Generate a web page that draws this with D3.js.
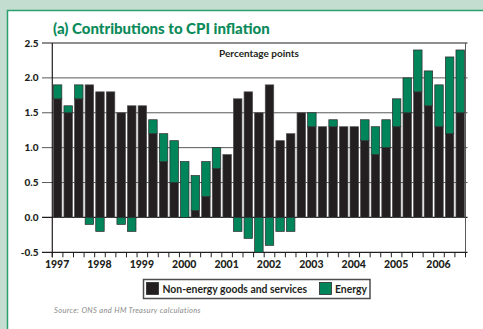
<!DOCTYPE html>
<html>
<head>
<meta charset="utf-8">
<script src="https://cdn.jsdelivr.net/npm/d3@7"></script>
<style>
  html, body { margin: 0; padding: 0; background: #c3ded1; }
  svg { display: block; }
</style>
</head>
<body>
<svg id="chart" width="483" height="329"></svg>
<script>
// Quarterly contributions to CPI inflation, 1997 Q1 – 2006 Q3 (percentage points)
const quarters = [];
for (let yr = 1997; yr <= 2006; yr++) {
  for (let q = 1; q <= 4; q++) {
    if (yr === 2006 && q === 4) break;
    quarters.push(yr + " Q" + q);
  }
}
const nonEnergy = [1.7, 1.5, 1.7, 1.9, 1.8, 1.8, 1.5, 1.6, 1.6, 1.2,
                   0.8, 0.5, 0.0, 0.1, 0.3, 0.7, 0.9, 1.7, 1.8, 1.5,
                   1.9, 1.1, 1.2, 1.5, 1.3, 1.3, 1.3, 1.3, 1.3, 1.1,
                   0.9, 1.0, 1.3, 1.5, 1.8, 1.6, 1.3, 1.2, 1.5];
const energy    = [0.2, 0.1, 0.2, -0.1, -0.2, 0.0, -0.1, -0.2, 0.0, 0.2,
                   0.4, 0.6, 0.8, 0.5, 0.5, 0.3, 0.0, -0.2, -0.3, -0.5,
                   -0.4, -0.2, -0.2, 0.0, 0.2, 0.0, 0.1, 0.0, 0.0, 0.3,
                   0.4, 0.4, 0.4, 0.5, 0.6, 0.5, 0.6, 1.1, 0.9];
const yTicks = [-0.5, 0.0, 0.5, 1.0, 1.5, 2.0, 2.5];
const yearLabels = ["1997", "1998", "1999", "2000", "2001", "2002", "2003", "2004", "2005", "2006"];
const seriesNames = ["Non-energy goods and services", "Energy"];

const BLACK = "#231f20";
const GREEN = "#00855a";
const TITLE_GREEN = "#0b8a5a";
const FONT = "Lato, 'Open Sans', sans-serif";

const svg = d3.select("#chart");

// White panel with green rule
svg.append("rect")
  .attr("x", 7.5).attr("y", 10.5)
  .attr("width", 490).attr("height", 340)
  .attr("fill", "#ffffff")
  .attr("stroke", "#2aa06e").attr("stroke-width", 1.5);

const plotLeft = 52.3, plotRight = 465.5, plotTop = 43, plotBottom = 252.3;

const x = d3.scaleBand()
  .domain(quarters)
  .range([plotLeft, plotRight])
  .paddingInner(0.2)
  .paddingOuter(0.1);
const y = d3.scaleLinear().domain([-0.5, 2.5]).range([plotBottom, plotTop]);
const step = x.step(), bw = x.bandwidth();

// Title
svg.append("text")
  .attr("x", 53).attr("y", 34)
  .attr("font-family", FONT).attr("font-weight", 900)
  .attr("font-size", 15).attr("fill", TITLE_GREEN)
  .text("(a) Contributions to CPI inflation");

// Horizontal grid, extending left of the axis as ticks
const grid = svg.append("g");
yTicks.forEach(v => {
  const edge = (v === 0 || v === 2.5 || v === -0.5);
  grid.append("line")
    .attr("x1", 42).attr("x2", plotRight + 2)
    .attr("y1", y(v)).attr("y2", y(v))
    .attr("stroke", edge ? "#231f20" : "#58595b")
    .attr("stroke-width", edge ? 1.2 : 1);
});

// Right border
svg.append("line")
  .attr("x1", plotRight).attr("x2", plotRight)
  .attr("y1", plotTop).attr("y2", plotBottom)
  .attr("stroke", "#58595b").attr("stroke-width", 1);

// Bars: non-energy from zero upwards, energy stacked above if positive, below zero if negative
const bars = svg.append("g");
quarters.forEach((q, i) => {
  const ne = nonEnergy[i], en = energy[i];
  if (ne > 0) {
    bars.append("rect")
      .attr("x", x(q)).attr("width", bw)
      .attr("y", y(ne)).attr("height", y(0) - y(ne))
      .attr("fill", BLACK).attr("stroke", "#4d4d4f").attr("stroke-width", 0.7);
  }
  if (en !== 0) {
    const base = en > 0 ? ne : 0;
    const y0 = y(base), y1 = y(base + en);
    bars.append("rect")
      .attr("x", x(q)).attr("width", bw)
      .attr("y", Math.min(y0, y1)).attr("height", Math.abs(y1 - y0))
      .attr("fill", GREEN).attr("stroke", "#2b2b2b").attr("stroke-width", 0.7);
  }
});

// Left axis line
svg.append("line")
  .attr("x1", plotLeft).attr("x2", plotLeft)
  .attr("y1", plotTop).attr("y2", plotBottom + 5)
  .attr("stroke", BLACK).attr("stroke-width", 1.2);

// Quarter ticks below the x axis
const tickXs = quarters.map(q => x(q) - (step - bw) / 2).concat([plotRight]);
svg.append("g").selectAll("line").data(tickXs).join("line")
  .attr("x1", d => d).attr("x2", d => d)
  .attr("y1", plotBottom).attr("y2", plotBottom + 5)
  .attr("stroke", BLACK).attr("stroke-width", 1);

// Y tick labels
svg.append("g").selectAll("text").data(yTicks).join("text")
  .attr("x", 38.5).attr("y", d => y(d) + 3.5)
  .attr("text-anchor", "end")
  .attr("font-family", FONT).attr("font-weight", 900)
  .attr("font-size", 10).attr("fill", BLACK)
  .text(d => d.toFixed(1));

// Year labels under each Q1 bar
svg.append("g").selectAll("text").data(yearLabels).join("text")
  .attr("x", d => x(d + " Q1") + bw / 2 - 0.5)
  .attr("y", plotBottom + 16)
  .attr("text-anchor", "middle")
  .attr("font-family", FONT).attr("font-weight", 900)
  .attr("font-size", 10.5).attr("fill", BLACK)
  .text(d => d);

// Units label
svg.append("text")
  .attr("x", 259).attr("y", 57)
  .attr("text-anchor", "middle")
  .attr("font-family", FONT).attr("font-weight", 700)
  .attr("font-size", 10).attr("fill", BLACK)
  .text("Percentage points");

// Legend
const lg = svg.append("g");
lg.append("rect")
  .attr("x", 143.5).attr("y", 279.5).attr("width", 226.5).attr("height", 19)
  .attr("fill", "#ffffff").attr("stroke", "#4d4d4f").attr("stroke-width", 1.5);
const legendItems = [
  { name: seriesNames[0], color: BLACK, sx: 146.5, tx: 162.5 },
  { name: seriesNames[1], color: GREEN, sx: 319.5, tx: 335 }
];
legendItems.forEach(it => {
  lg.append("rect")
    .attr("x", it.sx).attr("y", 282.5).attr("width", 12).attr("height", 12)
    .attr("fill", it.color).attr("stroke", "#2b2b2b").attr("stroke-width", 0.8);
  lg.append("text")
    .attr("x", it.tx).attr("y", 292.5)
    .attr("font-family", FONT).attr("font-weight", 700)
    .attr("font-size", 10.4).attr("fill", BLACK)
    .text(it.name);
});

// Source note
svg.append("text")
  .attr("x", 54).attr("y", 313)
  .attr("font-family", FONT).attr("font-style", "italic")
  .attr("font-size", 7.5).attr("letter-spacing", 0.35)
  .attr("fill", "#8a8a8a")
  .text("Source: ONS and HM Treasury calculations");
</script>
</body>
</html>
